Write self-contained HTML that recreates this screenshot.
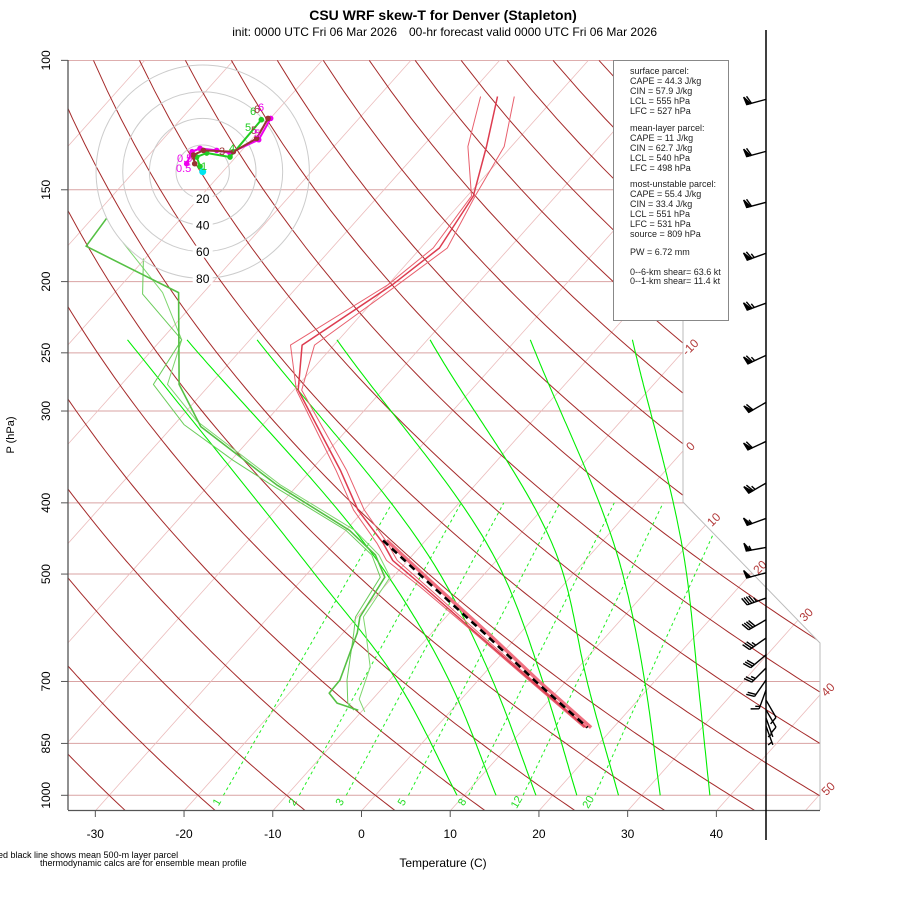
<!DOCTYPE html>
<html><head><meta charset="utf-8">
<style>
html,body{margin:0;padding:0;background:#fff;}
svg{display:block;font-family:"Liberation Sans",sans-serif;}
</style></head>
<body>
<svg id="chart" width="900" height="900" viewBox="0 0 900 900" xmlns="http://www.w3.org/2000/svg">
<defs>
<clipPath id="plotclip"><polygon points="68,60 683,60 683,502 820,643 820,810 68,810"/></clipPath>
</defs>
<text x="443" y="20" text-anchor="middle" font-size="14" font-weight="bold">CSU WRF skew-T for Denver (Stapleton)</text>
<text x="397" y="36" text-anchor="end" font-size="12">init: 0000 UTC Fri 06 Mar 2026</text>
<text x="409" y="36" text-anchor="start" font-size="12">00-hr forecast valid 0000 UTC Fri 06 Mar 2026</text>
<g id="bg" clip-path="url(#plotclip)"></g>
<g id="fg" clip-path="url(#plotclip)"></g>
<g id="axes"></g>
<g id="hodo"></g>
<g id="barbs"></g>
<g>
<rect x="613.5" y="60.5" width="115" height="260" fill="#fff" stroke="#888"/>
<g font-size="9" fill="#222">
<text x="630" y="74">surface parcel:</text>
<text x="630" y="84">CAPE = 44.3 J/kg</text>
<text x="630" y="94">CIN = 57.9 J/kg</text>
<text x="630" y="104">LCL = 555 hPa</text>
<text x="630" y="114">LFC = 527 hPa</text>
<text x="630" y="131">mean-layer parcel:</text>
<text x="630" y="141">CAPE = 11 J/kg</text>
<text x="630" y="151">CIN = 62.7 J/kg</text>
<text x="630" y="161">LCL = 540 hPa</text>
<text x="630" y="171">LFC = 498 hPa</text>
<text x="630" y="187">most-unstable parcel:</text>
<text x="630" y="197">CAPE = 55.4 J/kg</text>
<text x="630" y="207">CIN = 33.4 J/kg</text>
<text x="630" y="217">LCL = 551 hPa</text>
<text x="630" y="227">LFC = 531 hPa</text>
<text x="630" y="237">source = 809 hPa</text>
<text x="630" y="255">PW =  6.72 mm</text>
<text x="630" y="275">0--6-km shear= 63.6 kt</text>
<text x="630" y="284">0--1-km shear= 11.4 kt</text>
</g></g>
<text x="443" y="867" text-anchor="middle" font-size="12">Temperature (C)</text>
<text transform="translate(14,435) rotate(-90)" text-anchor="middle" font-size="11">P (hPa)</text>
<text x="-2" y="858" font-size="9">ed black line shows mean 500-m layer parcel</text>
<text x="40" y="866" font-size="9">thermodynamic calcs are for ensemble mean profile</text>
</svg>
<script>
// ---- data ----
const isoTemps = [-110,-100,-90,-80,-70,-60,-50,-40,-30,-20,-10,0,10,20,30,40,50];
const isoLabels = [-10,0,10,20,30,40,50];
const thetaVals = [-40,-30,-20,-10,0,10,20,30,40,50,60,70,80,90,100,110,120,130,140,150,160,170,180];
const pressLevels = [100,150,200,250,300,400,500,700,850,1000];
const tempTicks = [-30,-20,-10,0,10,20,30,40];
const mixRatios = [1,2,3,5,8,12,20];
const moistP = [1000,700,500,240];
const moist0 = [9.2,-9.0,-29.1,-73.8];
const moist1 = [13.6,-3.1,-21.0,-67.1];
const moist2 = [18.1,1.8,-15.0,-59.2];
const moist3 = [22.7,7.4,-7.9,-50.2];
const moist4 = [27.4,12.4,-1.1,-39.7];
const moist5 = [32.1,18.9,5.6,-28.4];
const moist6 = [37.7,24.9,12.8,-16.9];
const tempP = [112,131,153,180,202,244,281,361,409,454,479,520,603,700,809];
const tempM1 = [-58.5,-54.9,-49.5,-48.6,-50.0,-54.9,-49.7,-37.2,-31.2,-25.2,-22.4,-16.0,-5.0,6.0,16.7];
const tempM2 = [-56.6,-52.8,-49.3,-47.9,-49.5,-53.6,-49.5,-36.7,-30.7,-24.5,-21.7,-15.6,-4.8,6.2,16.9];
const tempM3 = [-54.7,-50.8,-49.1,-47.0,-48.9,-52.2,-49.1,-36.0,-30.0,-24.0,-21.2,-15.2,-4.5,6.4,17.1];
const dewP1 = [164,179,207,276,315,378,436,471,505,572,601,697,726,749,766];
const dewT1 = [-88.4,-87.9,-72.8,-63.5,-56.8,-42.4,-29.6,-24.2,-20.9,-19.7,-18.4,-15.6,-15.5,-13.6,-10.5];
const dewP2 = [177,207,240,276,310,378,436,471,505,572,600,669,740,770];
const dewT2 = [-84.1,-74.6,-67.7,-64.8,-57.7,-42.0,-29.0,-23.8,-20.3,-19.3,-17.5,-13.5,-11.5,-9.6];
const dewP3 = [186,208,240,276,313,350,378,436,471,505,572,601,697,749,766];
const dewT3 = [-80.2,-76.7,-67.7,-66.4,-58.9,-49.8,-43.0,-30.0,-24.6,-21.4,-20.2,-18.8,-14.8,-12.4,-11.0];
const parcelP = [450,521,603,700,809];
const parcelT = [-24.8,-14.4,-3.9,6.6,17.1];
const barbP = [113,133,156,183,214,252,292,330,376,420,460,498,539,577,611,644,671,697,719,742,765,785,805];
const barbDir = [255,255,255,250,250,245,240,245,240,250,260,255,250,240,235,230,225,215,200,150,150,160,160];
const barbSpd = [60,60,60,65,65,65,60,60,65,55,55,50,45,40,35,30,25,20,15,10,10,8,5];
const hodoU1 = [-12,-8,-2,10.5,20.5,42,51];
const hodoV1 = [6,15,17.5,16,14,24,40];
const hodoU2 = [-2,-4.5,3,20.5,44];
const hodoV2 = [4,11,14,11,39];
const hodoU3 = [-6,-7,0.5,23,40.5,49];
const hodoV3 = [6,12.5,16,15,25,40];
const hodoRings = [20,40,60,80];

// ---- axis functions ----
const NS='http://www.w3.org/2000/svg';
function Yu(p){return 44.061*Math.log10(1000/p);}
function py(p){return 795.3-16.68*Yu(p);}
function tx(T,p){return 375.4+16.43*(0.54*T+0.90692*Yu(p));}
function mk(tag,attrs,parent){const e=document.createElementNS(NS,tag);for(const k in attrs)e.setAttribute(k,attrs[k]);parent.appendChild(e);return e;}
function ptsStr(arr){return arr.map(a=>a[0].toFixed(1)+','+a[1].toFixed(1)).join(' ');}
const bg=document.getElementById('bg'),fg=document.getElementById('fg'),axes=document.getElementById('axes');
function inside(x,y){if(x<68||x>820||y<60||y>810)return false;if(x>683&&y<502)return false;if(x>683){const yd=502+(x-683)*(141/137);if(y<yd)return false;}return true;}

pressLevels.forEach(p=>{
  const l=mk('line',{x1:68,x2:830,y1:py(p),y2:py(p),stroke:'#d9a3a3','stroke-width':1},bg);
  
  
});
isoTemps.forEach(T=>{
  const a=[tx(T,1050),py(1050)],b=[tx(T,100),py(100)];
  const l=mk('line',{x1:a[0],y1:a[1],x2:b[0],y2:b[1],stroke:'#ebbcbc','stroke-width':0.8},bg);
  
  
});
thetaVals.forEach(th=>{
  const pts=[];for(let p=1050;p>=100;p-=10){const T=(th+273.15)*Math.pow(p/1000,0.2857)-273.15;pts.push([tx(T,p),py(p)]);}
  const l=mk('polyline',{points:ptsStr(pts),fill:'none',stroke:'#a52a2a','stroke-width':1},bg);
  
  
});
function tdFromW(w,p){const e=w*p/(622+w);const L=Math.log(e/6.112);return 243.5*L/(17.67-L);}
mixRatios.forEach(w=>{
  const a=[tx(tdFromW(w,1000),1000),py(1000)],b=[tx(tdFromW(w,400),400),py(400)];
  const l=mk('line',{x1:a[0],y1:a[1],x2:b[0],y2:b[1],stroke:'#22ee22','stroke-width':1,'stroke-dasharray':'3,3'},bg);
  
  
  const t=mk('text',{x:a[0]-6,y:a[1]+10,fill:'#22dd22','font-size':11,'text-anchor':'middle',transform:`rotate(-60 ${a[0]-6} ${a[1]+7})`},axes);
  t.textContent=w;
  
  
});
// moist adiabats: monotone cubic (PCHIP) of pixel x vs pixel y
function pchip(ys,xs,yq){
  const n=ys.length,h=[],d=[],m=new Array(n);
  for(let i=0;i<n-1;i++){h.push(ys[i+1]-ys[i]);d.push((xs[i+1]-xs[i])/h[i]);}
  m[0]=d[0];m[n-1]=d[n-2];
  for(let i=1;i<n-1;i++){if(d[i-1]*d[i]<=0)m[i]=0;else{const w1=2*h[i]+h[i-1],w2=h[i]+2*h[i-1];m[i]=(w1+w2)/(w1/d[i-1]+w2/d[i]);}}
  let k=0;while(k<n-2&&yq>ys[k+1])k++;
  const t=(yq-ys[k])/h[k],t2=t*t,t3=t2*t;
  return (2*t3-3*t2+1)*xs[k]+(t3-2*t2+t)*h[k]*m[k]+(-2*t3+3*t2)*xs[k+1]+(t3-t2)*h[k]*m[k+1];
}
[moist0,moist1,moist2,moist3,moist4,moist5,moist6].forEach((arr,i)=>{
  const ys=[],xs=[];
  for(let j=moistP.length-1;j>=0;j--){ys.push(py(moistP[j]));xs.push(tx(arr[j],moistP[j]));}
  const pts=[];
  for(let y=ys[0];y<=ys[ys.length-1]+0.01;y+=3){pts.push([pchip(ys,xs,Math.min(y,ys[ys.length-1])),y]);}
  pts.push([xs[xs.length-1],ys[ys.length-1]]);
  const l=mk('polyline',{points:ptsStr(pts),fill:'none',stroke:'#00ee00','stroke-width':1.1},bg);
  
  
});
const bd=mk('polyline',{points:'683,60 683,502 820,643 820,810',fill:'none',stroke:'#bbbbbb','stroke-width':1},axes);


isoLabels.forEach(T=>{
  let last=null;
  for(let p=1050;p>=100;p-=1){const x=tx(T,p),y=py(p);if(inside(x,y))last=[x,y];else if(last)break;}
  if(!last)return;
  const lx=last[0]+9,ly=last[1]-5;
  const t=mk('text',{x:lx,y:ly,fill:'#b33a3a','font-size':12,'text-anchor':'middle','dominant-baseline':'middle',transform:`rotate(-45 ${lx} ${ly})`},axes);
  t.textContent=T;
  
  
});
function drawProfile(P,T,color,w,name,dash){
  const pts=P.map((p,i)=>[tx(T[i],p),py(p)]);
  const a={points:ptsStr(pts),fill:'none',stroke:color,'stroke-width':w,'stroke-linejoin':'round'};
  if(dash)a['stroke-dasharray']=dash;
  const l=mk('polyline',a,fg);
  
  
}
drawProfile(dewP2,dewT2,'#7fd66f',1,'dewpoint-member-2');
drawProfile(dewP3,dewT3,'#6acc5a',1,'dewpoint-member-3');
drawProfile(dewP1,dewT1,'#55c044',1.6,'dewpoint-member-1');
drawProfile(tempP,tempM1,'#e8606e',1,'temperature-member-1');
drawProfile(tempP,tempM3,'#e8606e',1,'temperature-member-3');
drawProfile(tempP,tempM2,'#dd3c50',1.5,'temperature-member-2');
drawProfile(parcelP,parcelT.map(v=>v+0.4),'#f07080',3.5,'mean-layer-parcel');
drawProfile(parcelP,parcelT,'#000',2.5,'surface-parcel-dashed','7,5');

mk('line',{x1:68,y1:60,x2:68,y2:810,stroke:'#555','stroke-width':1.3},axes);
mk('line',{x1:68,y1:810.5,x2:820,y2:810.5,stroke:'#555','stroke-width':1.3},axes);
pressLevels.forEach(p=>{
  const y=py(p);
  mk('line',{x1:61,x2:68,y1:y,y2:y,stroke:'#555'},axes);
  const t=mk('text',{x:47,y:y,'font-size':12,'text-anchor':'middle',transform:`rotate(-90 47 ${y})`,'dominant-baseline':'middle'},axes);
  t.textContent=p;
  
  
});
tempTicks.forEach(T=>{
  const x=tx(T,1050);
  mk('line',{x1:x,x2:x,y1:810,y2:817,stroke:'#555'},axes);
  const t=mk('text',{x:x,y:838,'font-size':12,'text-anchor':'middle'},axes);
  t.textContent=T;
  
  
});

const hg=document.getElementById('hodo');


const HX=202.7,HY=171.7,HS=1.333;
hodoRings.forEach(r=>{mk('circle',{cx:HX,cy:HY,r:r*HS,fill:'none',stroke:'#cccccc','stroke-width':1},hg);});
hodoRings.forEach(r=>{
  mk('rect',{x:HX-10,y:HY+r*HS-6,width:20,height:12,fill:'#fff'},hg);
  const t=mk('text',{x:HX,y:HY+r*HS+4.5,'font-size':12,'text-anchor':'middle'},hg);
  t.textContent=r;
  
  
});
function hodoTrace(U,V,color,name){
  const pts=U.map((u,i)=>[HX+u*HS,HY-V[i]*HS]);
  const l=mk('polyline',{points:ptsStr(pts),fill:'none',stroke:color,'stroke-width':2},hg);
  
  
  pts.forEach(p=>mk('circle',{cx:p[0],cy:p[1],r:2.8,fill:color},hg));
}
hodoTrace(hodoU1,hodoV1,'#ee00ee','hodograph-trace-magenta');
hodoTrace(hodoU2,hodoV2,'#22cc22','hodograph-trace-green');
hodoTrace(hodoU3,hodoV3,'#993333','hodograph-trace-brown');
mk('circle',{cx:HX,cy:HY,r:3.5,fill:'#00e5ee'},hg);
[['6',258,111,'#ee00ee'],['6',250,115,'#22cc22'],['6',254,113,'#993333'],['5',245,131,'#22cc22'],['5',251,134,'#993333'],['5',254,137,'#ee00ee'],['0.5',177,162,'#ee00ee'],['0.5',176,172,'#ee00ee'],['1',201,170,'#22cc22'],['4',229,152,'#22cc22'],['3',219,155,'#993333']].forEach(a=>{
  const t=mk('text',{x:a[1],y:a[2],'font-size':11,fill:a[3]},hg);t.textContent=a[0];
});

const bgp=document.getElementById('barbs');
mk('line',{x1:766,y1:30,x2:766,y2:840,stroke:'#000','stroke-width':1.5},bgp);
barbP.forEach((p,i)=>{
  const y=py(p),d=barbDir[i]*Math.PI/180;
  const ux=Math.sin(d),uy=-Math.cos(d);
  const nx=-uy,ny=ux;
  const L=20,ex=766+L*ux,ey=y+L*uy;
  const g=mk('g',{stroke:'#000','stroke-width':1.4,fill:'#000'},bgp);
  
  
  mk('line',{x1:766,y1:y,x2:ex,y2:ey},g);
  let s=barbSpd[i],pos=0;
  while(s>=50){const bx=ex-pos*ux,by=ey-pos*uy;mk('polygon',{points:`${bx},${by} ${bx+8*nx+1*ux},${by+8*ny+1*uy} ${bx-4*ux},${by-4*uy}`},g);pos+=5;s-=50;}
  while(s>=10){const bx=ex-pos*ux,by=ey-pos*uy;mk('line',{x1:bx,y1:by,x2:bx+8*nx+3*ux,y2:by+8*ny+3*uy},g);pos+=2.5;s-=10;}
  if(s>=5){if(pos===0)pos=3;const bx=ex-pos*ux,by=ey-pos*uy;mk('line',{x1:bx,y1:by,x2:bx+4.5*nx+1.5*ux,y2:by+4.5*ny+1.5*uy},g);}
});
</script>
</body></html>
